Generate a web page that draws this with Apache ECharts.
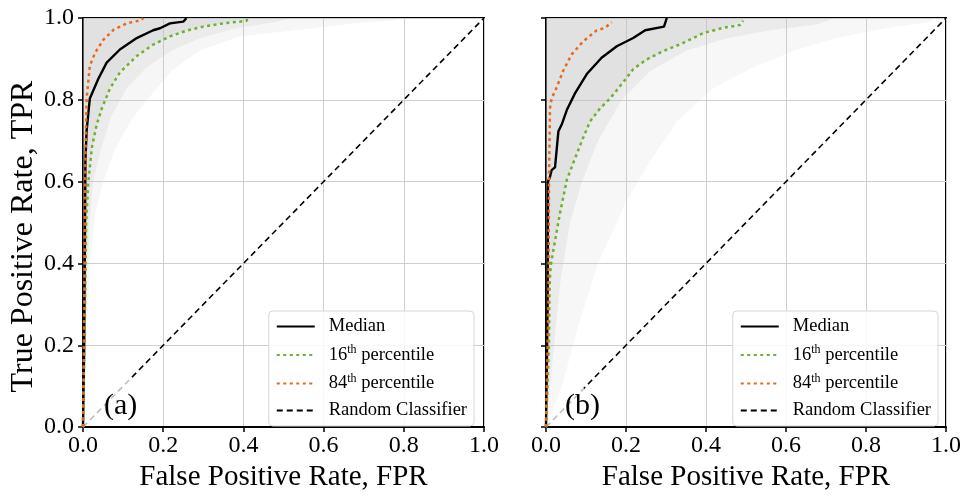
<!DOCTYPE html>
<html>
<head>
<meta charset="utf-8">
<script src="https://cdn.jsdelivr.net/npm/echarts@6/dist/echarts.min.js"></script>
<style>html,body{margin:0;padding:0;background:#fff}#c{width:964px;height:497px}</style>
</head>
<body>
<div id="c"></div>
<script>
// ---------- data (FPR, TPR) ----------
var ticks = [0, 0.2, 0.4, 0.6, 0.8, 1.0];
var legendNames = ['Median', '16th percentile', '84th percentile', 'Random Classifier'];
var diagonal = [[0, 0], [1, 1]];

// Panel (a)
var medianA = [[0,0],[0.003,0.2],[0.005,0.5],[0.006,0.65],[0.009,0.724],[0.017,0.803],[0.038,0.851],[0.059,0.891],[0.092,0.923],[0.134,0.951],[0.175,0.970],[0.192,0.975],[0.217,0.987],[0.25,0.991],[0.258,1.0]];
var p84A = [[0,0],[0.003,0.3],[0.005,0.6],[0.0075,0.724],[0.009,0.803],[0.017,0.883],[0.03,0.915],[0.051,0.947],[0.076,0.971],[0.109,0.987],[0.146,0.995],[0.15,1.0]];
var p16A = [[0,0],[0.005,0.3],[0.008,0.5],[0.013,0.595],[0.022,0.683],[0.034,0.739],[0.047,0.779],[0.067,0.827],[0.092,0.867],[0.134,0.907],[0.175,0.935],[0.217,0.955],[0.258,0.969],[0.3,0.979],[0.35,0.987],[0.408,0.993],[0.41,1.0]];
var bandOuterA = [[0,0],[0.008,0.2],[0.018,0.4],[0.03,0.52],[0.05,0.6],[0.08,0.68],[0.12,0.75],[0.16,0.8],[0.22,0.87],[0.29,0.92],[0.39,0.955],[0.53,0.97],[0.68,0.987],[0.78,0.995],[0.8,1.0]];
var bandMidA = [[0,0],[0.008,0.3],[0.016,0.5],[0.025,0.6],[0.045,0.68],[0.07,0.76],[0.11,0.83],[0.16,0.88],[0.22,0.92],[0.29,0.95],[0.38,0.975],[0.48,0.99],[0.52,1.0]];
var bandInnerA = [[0,0],[0.005,0.3],[0.012,0.6],[0.022,0.68],[0.034,0.74],[0.047,0.78],[0.067,0.83],[0.092,0.87],[0.134,0.91],[0.175,0.935],[0.217,0.955],[0.258,0.97],[0.3,0.98],[0.35,0.987],[0.41,1.0]];

// Panel (b)
var medianB = [[0,0],[0.004,0.3],[0.005,0.6],[0.01,0.612],[0.014,0.628],[0.0225,0.635],[0.031,0.723],[0.039,0.739],[0.052,0.775],[0.072,0.815],[0.102,0.863],[0.139,0.903],[0.177,0.931],[0.218,0.951],[0.248,0.970],[0.295,0.979],[0.302,1.0]];
var p84B = [[0,0],[0.006,0.3],[0.0075,0.6],[0.01,0.779],[0.014,0.803],[0.027,0.831],[0.043,0.871],[0.064,0.911],[0.093,0.943],[0.127,0.970],[0.148,0.976],[0.164,0.99]];
var p16B = [[0,0],[0.0075,0.2],[0.009,0.35],[0.012,0.396],[0.018,0.43],[0.035,0.523],[0.052,0.604],[0.064,0.635],[0.078,0.67],[0.092,0.705],[0.11,0.747],[0.135,0.779],[0.16,0.803],[0.193,0.843],[0.218,0.875],[0.252,0.899],[0.293,0.919],[0.343,0.939],[0.393,0.963],[0.443,0.976],[0.485,0.983],[0.493,0.993]];
var bandOuterB = [[0,0],[0.04,0.1],[0.08,0.245],[0.13,0.4],[0.2,0.55],[0.26,0.65],[0.33,0.75],[0.42,0.83],[0.52,0.88],[0.62,0.92],[0.72,0.95],[0.85,0.975],[0.96,0.99],[0.97,1.0]];
var bandMidB = [[0,0],[0.02,0.2],[0.035,0.35],[0.06,0.5],[0.09,0.6],[0.13,0.7],[0.19,0.8],[0.26,0.87],[0.35,0.92],[0.45,0.95],[0.56,0.97],[0.68,0.985],[0.72,1.0]];
var bandInnerB = [[0,0],[0.008,0.2],[0.012,0.4],[0.03,0.5],[0.05,0.6],[0.08,0.68],[0.11,0.747],[0.16,0.803],[0.218,0.875],[0.293,0.919],[0.393,0.963],[0.493,0.993],[0.5,1.0]];

// ---------- chart ----------
var FONT = 'Liberation Serif';
var GREEN = '#6cb12f', ORANGE = '#e8691c';

function axisX(gi) {
  return {
    type: 'value', gridIndex: gi, min: 0, max: 1, interval: 0.2,
    name: 'False Positive Rate, FPR', nameLocation: 'middle', nameGap: 32,
    nameTextStyle: { fontFamily: FONT, fontSize: 29, color: '#000' },
    axisLine: { show: true, lineStyle: { color: '#000', width: 2 } },
    axisTick: { show: true, length: 5, lineStyle: { color: '#000', width: 1.5 } },
    axisLabel: { margin: 7, fontFamily: FONT, fontSize: 24, color: '#000',
      formatter: function (v) { return v.toFixed(1); } },
    splitLine: { show: true, lineStyle: { color: '#cfcfcf', width: 1 } }
  };
}
function axisY(gi, showLabels) {
  return {
    type: 'value', gridIndex: gi, min: 0, max: 1, interval: 0.2,
    name: showLabels ? 'True Positive Rate, TPR' : '', nameLocation: 'middle', nameGap: 43,
    nameTextStyle: { fontFamily: FONT, fontSize: 32, color: '#000', padding: [0, 28, 0, 0] },
    axisLine: { show: true, lineStyle: { color: '#000', width: 2 } },
    axisTick: { show: true, length: 5, lineStyle: { color: '#000', width: 1.5 } },
    axisLabel: { show: showLabels, margin: 9, fontFamily: FONT, fontSize: 24, color: '#000',
      formatter: function (v) { return v.toFixed(1); } },
    splitLine: { show: true, lineStyle: { color: '#cfcfcf', width: 1 } }
  };
}
function band(data, gi, alpha) {
  return { type: 'line', xAxisIndex: gi, yAxisIndex: gi, data: data, symbol: 'none',
    silent: true, lineStyle: { width: 0, opacity: 0 },
    areaStyle: { origin: 'end', color: 'rgba(195,195,195,' + alpha + ')' }, z: 1 };
}
function curve(name, data, gi, color, type, width) {
  return { type: 'line', name: name, xAxisIndex: gi, yAxisIndex: gi, data: data, symbol: 'none',
    lineStyle: { color: color, type: type, width: width }, itemStyle: { color: color }, z: 5 };
}
function diag(gi, cut) {
  return { type: 'line', name: 'Random Classifier', xAxisIndex: gi, yAxisIndex: gi, data: diagonal, symbol: 'none',
    lineStyle: { width: 1.6, type: [6, 4],
      color: { type: 'linear', x: 0, y: 1, x2: 1, y2: 0, colorStops: [
        { offset: 0, color: '#bdbdbd' }, { offset: cut, color: '#bdbdbd' },
        { offset: cut, color: '#000' }, { offset: 1, color: '#000' }] } },
    itemStyle: { color: '#000' }, z: 3 };
}
function legendFmt(name) {
  if (name.indexOf('th percentile') > 0) {
    var num = name.split('th')[0];
    return '{n|' + num + '}{s|th}{n| percentile}';
  }
  return '{n|' + name + '}';
}
function legend(right) {
  return {
    data: legendNames.map(function (n) { return n === 'Random Classifier' ? { name: n, lineStyle: { color: '#000' } } : n; }),
    orient: 'vertical', right: right, bottom: 71,
    itemWidth: 38, itemHeight: 14, itemGap: 8,
    padding: [6, 7, 6, 7],
    backgroundColor: 'rgba(255,255,255,0.85)', borderColor: '#d6d6d6', borderWidth: 1, borderRadius: 4,
    selectedMode: false,
    itemStyle: { opacity: 0, borderWidth: 0 },
    formatter: legendFmt,
    textStyle: { padding: [0, 0, 0, 9], rich: {
      n: { fontFamily: FONT, fontSize: 18.5, color: '#000', lineHeight: 22 },
      s: { fontFamily: FONT, fontSize: 12, color: '#000', verticalAlign: 'top', lineHeight: 12 }
    } }
  };
}

var chart = echarts.init(document.getElementById('c'), null, { renderer: 'canvas' });
chart.setOption({
  animation: false,
  backgroundColor: '#fff',
  title: [
    { text: '(a)', left: 99, top: 386, textStyle: { fontFamily: FONT, fontSize: 30, fontWeight: 'normal', color: '#000' } },
    { text: '(b)', left: 560, top: 386, textStyle: { fontFamily: FONT, fontSize: 30, fontWeight: 'normal', color: '#000' } }
  ],
  grid: [
    { left: 83, right: 480, top: 18, bottom: 62, show: true, borderColor: '#000', borderWidth: 2, backgroundColor: 'transparent' },
    { left: 546, right: 18, top: 18, bottom: 62, show: true, borderColor: '#000', borderWidth: 2, backgroundColor: 'transparent' }
  ],
  xAxis: [axisX(0), axisX(1)],
  yAxis: [axisY(0, true), axisY(1, false)],
  legend: [legend(490), legend(26)],
  series: [
    band(bandOuterA, 0, 0.22), band(bandMidA, 0, 0.3), band(bandInnerA, 0, 0.35),
    diag(0, 0.12),
    curve('Median', medianA, 0, '#000', 'solid', 2.4),
    curve('16th percentile', p16A, 0, GREEN, [3, 3.5], 2.5),
    curve('84th percentile', p84A, 0, ORANGE, [3, 3.5], 2.5),
    band(bandOuterB, 1, 0.18), band(bandMidB, 1, 0.3), band(bandInnerB, 1, 0.35),
    diag(1, 0.1),
    curve('Median', medianB, 1, '#000', 'solid', 2.4),
    curve('16th percentile', p16B, 1, GREEN, [3, 3.5], 2.5),
    curve('84th percentile', p84B, 1, ORANGE, [3, 3.5], 2.5)
  ]
});
</script>
</body>
</html>
